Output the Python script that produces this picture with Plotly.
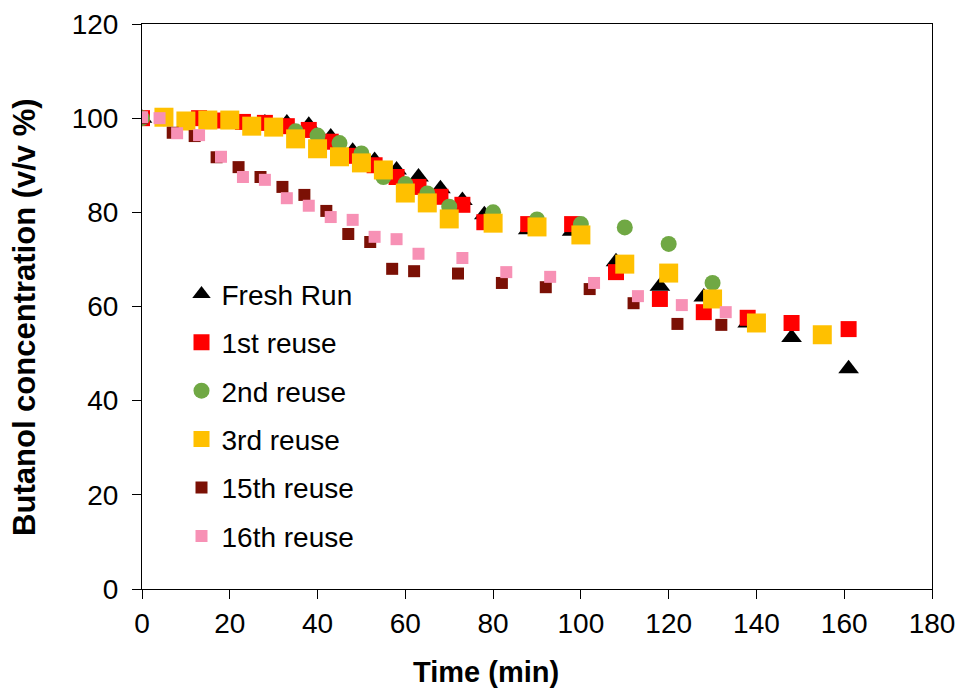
import plotly.graph_objects as go

fresh_t = [0, 13, 18, 23, 28, 33, 38, 43, 48, 53, 58, 63, 68, 73, 78, 88, 98, 108, 118, 128, 138, 148, 161]
fresh_y = [100, 99.5, 99, 99, 99, 99, 98.5, 96, 93, 91, 89, 87.5, 85, 82.5, 79.5, 76.3, 76, 69.5, 64.3, 62, 56.5, 53.4, 46.8]

r1_t = [0, 13, 18, 23, 28, 33, 38, 43, 48, 53, 58, 63, 68, 73, 78, 88, 98, 108, 118, 128, 138, 148, 161]
r1_y = [100, 100, 99.5, 99.2, 99, 98.3, 97.5, 95, 92, 90, 87.5, 85.4, 83.3, 81.6, 77.9, 77.5, 77.5, 67.3, 61.6, 58.8, 57.6, 56.5, 55.2]

r2_t = [0, 5, 10, 15, 20, 25, 30, 35, 40, 45, 50, 55, 60, 65, 70, 80, 90, 100, 110, 120, 130]
r2_y = [100, 100, 99.5, 99.5, 99.5, 98.5, 98, 97.2, 96.3, 94.7, 92.5, 87.5, 86, 84, 81.2, 80, 78.5, 77.5, 76.8, 73.3, 65]

r3_t = [5, 10, 15, 20, 25, 30, 35, 40, 45, 50, 55, 60, 65, 70, 80, 90, 100, 110, 120, 130, 140, 155]
r3_y = [100.2, 99.4, 99.6, 99.6, 98.3, 98.1, 95.6, 93.5, 91.8, 90.5, 89, 84.1, 82, 78.6, 77.7, 76.9, 75.2, 69, 67.1, 61.6, 56.5, 54]

r15_t = [0, 7, 12, 17, 22, 27, 32, 37, 42, 47, 52, 57, 62, 72, 82, 92, 102, 112, 122, 132]
r15_y = [100, 96.9, 96.2, 91.7, 89.6, 87.5, 85.4, 83.7, 80.3, 75.4, 73.7, 68, 67.5, 67, 65, 64.1, 63.7, 60.7, 56.3, 56.1]

r16_t = [0, 4, 8, 13, 18, 23, 28, 33, 38, 43, 48, 53, 58, 63, 73, 83, 93, 103, 113, 123, 133]
r16_y = [100.2, 100, 96.8, 96.4, 91.8, 87.5, 86.9, 83, 81.4, 79, 78.4, 74.8, 74.3, 71.2, 70.3, 67.3, 66.3, 65, 62.2, 60.3, 58.8]

x_ticks = [0, 20, 40, 60, 80, 100, 120, 140, 160, 180]
y_ticks = [0, 20, 40, 60, 80, 100, 120]

x_title = "Time (min)"
y_title = "Butanol concentration (v/v %)"

series = [
    ("Fresh Run", fresh_t, fresh_y, "triangle-up", "#000000", 18),
    ("1st reuse", r1_t, r1_y, "square", "#FF0000", 16),
    ("2nd reuse", r2_t, r2_y, "circle", "#70A844", 16),
    ("3rd reuse", r3_t, r3_y, "square", "#FFC000", 19),
    ("15th reuse", r15_t, r15_y, "square", "#7B1005", 12),
    ("16th reuse", r16_t, r16_y, "square", "#F791B5", 12),
]

fig = go.Figure()
for name, t, y, sym, col, sz in series:
    fig.add_trace(go.Scatter(
        x=t, y=y, mode="markers", name=name, legendgroup=name,
        marker=dict(symbol=sym, color=col, size=sz, line=dict(width=0)),
    ))

font_family = "Liberation Sans, Arial, sans-serif"
fig.update_layout(
    width=959, height=690,
    margin=dict(l=142, r=27, t=24, b=101, autoexpand=False),
    paper_bgcolor="white", plot_bgcolor="white",
    font=dict(family=font_family, size=28, color="black"),
    showlegend=True,
    legend=dict(
        x=0.05, y=0.566, xanchor="left", yanchor="top",
        bgcolor="rgba(0,0,0,0)", traceorder="grouped", tracegroupgap=9,
        font=dict(size=28, family=font_family),
        itemwidth=30,
    ),
    xaxis=dict(
        range=[0, 180], tickvals=x_ticks, ticks="outside", ticklen=9,
        showgrid=False, zeroline=False, showline=True, linecolor="black",
        linewidth=1, mirror=True, tickcolor="black", automargin=False,
        tickfont=dict(size=28),
    ),
    yaxis=dict(
        range=[0, 120], tickvals=y_ticks, ticks="outside", ticklen=9,
        showgrid=False, zeroline=False, showline=True, linecolor="black",
        linewidth=1, mirror=True, tickcolor="black", ticklabelstandoff=8,
        automargin=False,
        tickfont=dict(size=28),
    ),
    annotations=[
        dict(text="<b>" + x_title + "</b>", xref="paper", yref="paper",
             x=0.4354, y=-0.147, xanchor="center", yanchor="middle",
             showarrow=False, font=dict(size=29)),
        dict(text="<b>" + y_title + "</b>", xref="paper", yref="paper",
             x=-0.148, y=0.48, xanchor="center", yanchor="middle",
             textangle=-90, showarrow=False, font=dict(size=31)),
    ],
)

fig.write_html("out.html")
